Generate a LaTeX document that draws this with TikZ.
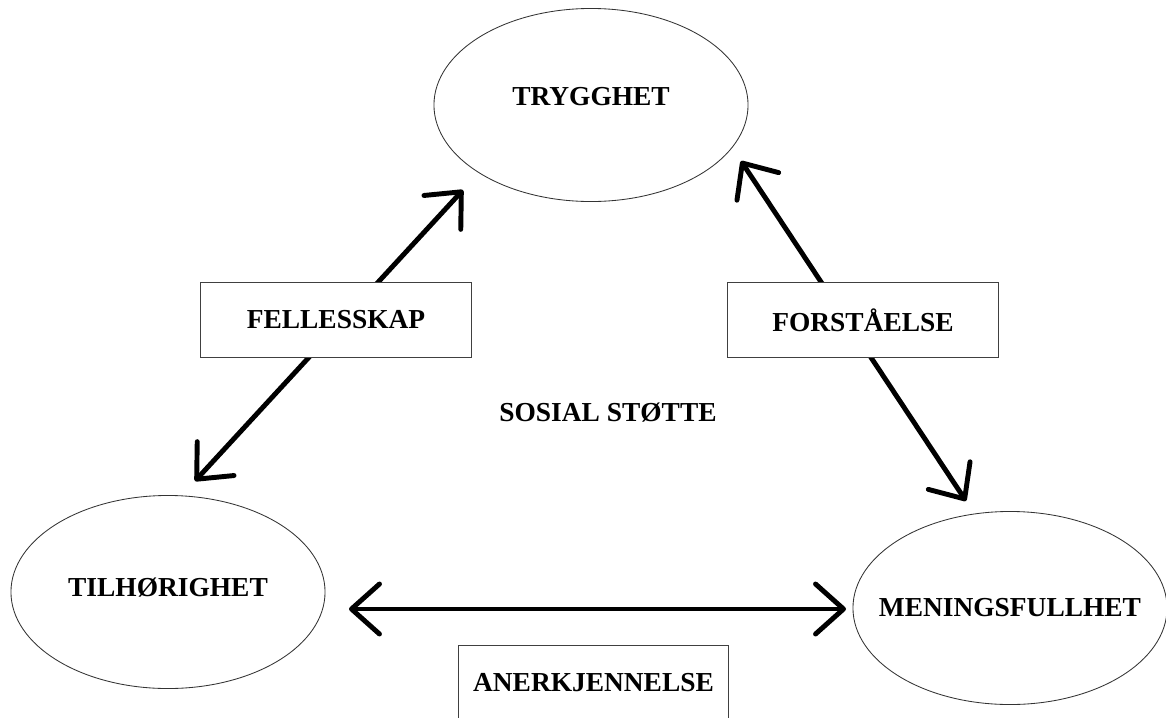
\documentclass[tikz,border=0pt]{standalone}
\usepackage{fontspec}
\setmainfont{Liberation Serif}
\usetikzlibrary{
  arrows.meta,
  shapes.geometric}
\tikzset{every picture/.style={font issue=\bfseries\fontsize{19.5}{23}},
         font issue/.style={execute at begin picture={#1\selectfont}},
         stage/.style={ellipse, draw=black!80, line width=0.6pt, minimum width=7.85cm, minimum height=4.825cm},
         link/.style={draw=black!75, line width=0.7pt, fill=white, minimum width=6.75cm, minimum height=1.875cm},
         both/.style={{Straight Barb[length=0.7cm,width=1.25cm,round]}-{Straight Barb[length=0.7cm,width=1.25cm,round]}, line width=3.5pt, line cap=round}
        }
\begin{document}
\begin{tikzpicture}[x=0.025cm, y=-0.025cm]
\useasboundingbox (0,0) rectangle (1166,718);
\node[stage, label={[yshift=0.2cm]center:TRYGGHET}](trygghet) at (591,105){};
\node[stage, label={[yshift=0.1cm]center:TILHØRIGHET}](tilhorighet) at (168,592){};
\node[stage, label=center:MENINGSFULLHET](meningsfullhet) at (1010,608){};
\node(sosial) at (608,413){SOSIAL STØTTE};

% arrow ends
\coordinate (fel-a) at (195,481);
\coordinate (fel-b) at (463,190);
\coordinate (for-a) at (741,161);
\coordinate (for-b) at (966,501);
\coordinate (ane-a) at (349,609);
\coordinate (ane-b) at (846,609);

\draw[both] (fel-a) -- (fel-b);
\draw[both] (for-a) -- (for-b);
\draw[both] (ane-a) -- (ane-b);

\node[link](fellesskap) at (336,319.5){FELLESSKAP};
\node[link](forstaelse) at (863,320){FORSTÅELSE};
\node[link](anerkjennelse) at (593.5,683){ANERKJENNELSE};
\end{tikzpicture}
\end{document}
